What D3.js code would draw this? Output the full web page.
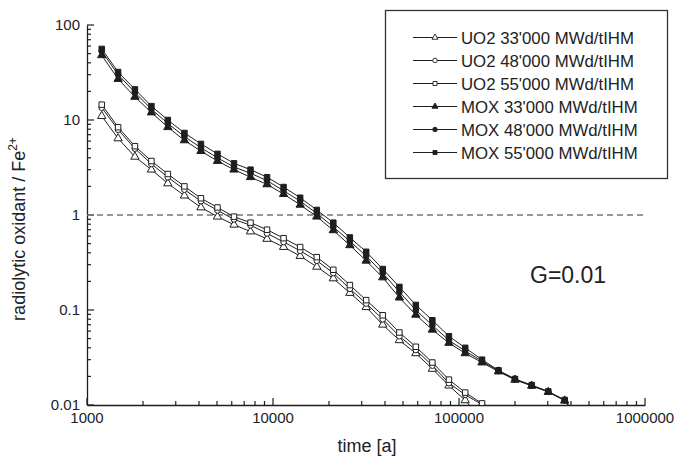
<!DOCTYPE html>
<html>
<head>
<meta charset="utf-8">
<script src="https://cdn.jsdelivr.net/npm/d3@7"></script>
<style>
  html, body { margin: 0; padding: 0; background: #fff; }
  svg { display: block; font-family: "Liberation Sans", Arial, Helvetica, sans-serif; }
</style>
</head>
<body>
<svg id="chart" width="674" height="459"></svg>
<script>
// Time points [a]
const times = [1200, 1470, 1810, 2220, 2720, 3340, 4100, 5030, 6170, 7570, 9290,
  11400, 14000, 17200, 21100, 25900, 31700, 38900, 47800, 58600, 71900, 88300,
  108000, 133000, 163000, 200000, 246000, 302000, 370000, 454000];

// Radiolytic oxidant / Fe2+ ratio for each fuel type and burn-up
const uo2_33 = [11, 6.4, 4.1, 3.0, 2.15, 1.6, 1.2, 0.96, 0.79, 0.67, 0.56, 0.46, 0.37,
  0.285, 0.215, 0.151, 0.107, 0.07, 0.048, 0.035, 0.024, 0.016, 0.0112, 0.007];
const uo2_48 = [13.5, 7.9, 5.0, 3.45, 2.5, 1.85, 1.4, 1.12, 0.9, 0.78, 0.64, 0.52, 0.42,
  0.33, 0.245, 0.167, 0.117, 0.08, 0.053, 0.038, 0.026, 0.017, 0.0128, 0.0101, 0.006];
const uo2_55 = [14.5, 8.4, 5.3, 3.7, 2.7, 2.0, 1.5, 1.2, 0.96, 0.83, 0.70, 0.57, 0.46,
  0.36, 0.265, 0.183, 0.127, 0.088, 0.058, 0.041, 0.028, 0.0185, 0.0135, 0.0104, 0.006];
const mox_33 = [48, 27, 17.5, 12, 8.4, 6.1, 4.7, 3.7, 3.0, 2.5, 2.1, 1.66, 1.28, 0.96,
  0.69, 0.48, 0.33, 0.22, 0.135, 0.089, 0.062, 0.045, 0.035, 0.028, 0.0225, 0.0184,
  0.0159, 0.0137, 0.0111, 0.0064];
const mox_48 = [53, 30, 19.5, 13, 9.2, 6.7, 5.1, 4.0, 3.2, 2.75, 2.3, 1.8, 1.4, 1.04,
  0.75, 0.53, 0.37, 0.245, 0.155, 0.1, 0.069, 0.048, 0.037, 0.029, 0.0228, 0.0186,
  0.016, 0.0138, 0.0112, 0.0065];
const mox_55 = [56, 32, 21, 14, 10, 7.3, 5.6, 4.4, 3.5, 3.0, 2.5, 1.97, 1.52, 1.13,
  0.83, 0.58, 0.41, 0.27, 0.175, 0.113, 0.078, 0.053, 0.040, 0.030, 0.0232, 0.0188,
  0.0162, 0.0139, 0.0113, 0.0066];

const seriesNames = ["UO2 33'000 MWd/tIHM", "UO2 48'000 MWd/tIHM", "UO2 55'000 MWd/tIHM",
  "MOX 33'000 MWd/tIHM", "MOX 48'000 MWd/tIHM", "MOX 55'000 MWd/tIHM"];
const seriesValues = [uo2_33, uo2_48, uo2_55, mox_33, mox_48, mox_55];
const seriesShapes = ["triangle", "circle", "square", "triangle", "circle", "square"];
const seriesFilled = [false, false, false, true, true, true];

const xTickValues = [1000, 10000, 100000, 1000000];
const xTickLabels = ["1000", "10000", "100000", "1000000"];
const yTickValues = [0.01, 0.1, 1, 10, 100];
const yTickLabels = ["0.01", "0.1", "1", "10", "100"];

const svg = d3.select("#chart");
const plot = { left: 87, right: 645, top: 25, bottom: 405 };

const x = d3.scaleLog().domain([1000, 1000000]).range([plot.left, plot.right]);
const y = d3.scaleLog().domain([0.01, 100]).range([plot.bottom, plot.top]);

const ink = "#1e1e1e";

svg.append("defs").append("clipPath").attr("id", "plotClip")
  .append("rect")
  .attr("x", plot.left).attr("y", plot.top)
  .attr("width", plot.right - plot.left + 2).attr("height", plot.bottom - plot.top);

// minor ticks for each decade
function minorTicks(lo, hi) {
  const out = [];
  for (let d = lo; d < hi; d *= 10) for (let m = 2; m <= 9; m++) out.push(d * m);
  return out;
}

// X axis (ticks pointing inward)
const xAxis = svg.append("g").attr("transform", `translate(0,${plot.bottom})`);
xAxis.call(d3.axisBottom(x).tickValues(xTickValues).tickSize(0).tickFormat(""));
xAxis.select(".domain").attr("stroke", ink).attr("stroke-width", 1.3);
xAxis.selectAll(".tick-major").data(xTickValues).enter().append("line")
  .attr("x1", d => x(d)).attr("x2", d => x(d)).attr("y1", 0).attr("y2", -7)
  .attr("stroke", ink).attr("stroke-width", 1.2);
xAxis.selectAll(".tick-minor").data(minorTicks(1000, 1000000)).enter().append("line")
  .attr("x1", d => x(d)).attr("x2", d => x(d)).attr("y1", 0).attr("y2", -4)
  .attr("stroke", ink).attr("stroke-width", 1.2);
xAxis.selectAll(".xlab").data(xTickValues).enter().append("text")
  .attr("x", d => x(d)).attr("y", 18)
  .attr("text-anchor", "middle")
  .attr("font-size", 15).attr("fill", "#222")
  .text((d, i) => xTickLabels[i]);

// Y axis (ticks pointing inward)
const yAxis = svg.append("g").attr("transform", `translate(${plot.left},0)`);
yAxis.call(d3.axisLeft(y).tickValues(yTickValues).tickSize(0).tickFormat(""));
yAxis.select(".domain").attr("stroke", ink).attr("stroke-width", 1.3);
yAxis.selectAll(".tick-major").data(yTickValues).enter().append("line")
  .attr("y1", d => y(d)).attr("y2", d => y(d)).attr("x1", 0).attr("x2", 7)
  .attr("stroke", ink).attr("stroke-width", 1.2);
yAxis.selectAll(".tick-minor").data(minorTicks(0.01, 100)).enter().append("line")
  .attr("y1", d => y(d)).attr("y2", d => y(d)).attr("x1", 0).attr("x2", 4)
  .attr("stroke", ink).attr("stroke-width", 1.2);
yAxis.selectAll(".ylab").data(yTickValues).enter().append("text")
  .attr("x", -7).attr("y", d => y(d)).attr("dy", "0.35em")
  .attr("text-anchor", "end")
  .attr("font-size", 15).attr("fill", "#222")
  .text((d, i) => yTickLabels[i]);

// Axis titles
svg.append("text")
  .attr("x", 367).attr("y", 452)
  .attr("text-anchor", "middle").attr("font-size", 18).attr("fill", "#222")
  .text("time [a]");

const yTitle = svg.append("text")
  .attr("transform", "translate(25,229) rotate(-90)")
  .attr("text-anchor", "middle").attr("font-size", 18).attr("fill", "#222");
yTitle.append("tspan").text("radiolytic oxidant / Fe");
yTitle.append("tspan").attr("font-size", 12).attr("dy", -8).text("2+");

// Reference level at ratio 1
svg.append("line")
  .attr("x1", plot.left).attr("x2", plot.right)
  .attr("y1", y(1)).attr("y2", y(1))
  .attr("stroke", "#777").attr("stroke-width", 1.3)
  .attr("stroke-dasharray", "6,4");

// Curves
const line = d3.line()
  .x((d, i) => x(times[i]))
  .y(d => y(d));

const curves = svg.append("g").attr("clip-path", "url(#plotClip)");
const symbolType = { triangle: d3.symbolTriangle, circle: d3.symbolCircle, square: d3.symbolSquare };

seriesValues.forEach((vals, s) => {
  curves.append("path")
    .datum(vals)
    .attr("d", line)
    .attr("fill", "none")
    .attr("stroke", ink)
    .attr("stroke-width", 1);
});

seriesValues.forEach((vals, s) => {
  const sym = d3.symbol().type(symbolType[seriesShapes[s]]).size(seriesShapes[s] === "circle" ? 26 : 30);
  curves.selectAll(null)
    .data(vals.map((v, i) => ({ t: times[i], v })).filter(d => d.v >= 0.01))
    .enter().append("path")
    .attr("d", sym)
    .attr("transform", d => `translate(${x(d.t)},${y(d.v)})`)
    .attr("fill", seriesFilled[s] ? ink : "#fff")
    .attr("stroke", ink)
    .attr("stroke-width", 1);
});

// Legend
const legend = svg.append("g");
legend.append("rect")
  .attr("x", 385.5).attr("y", 10.5).attr("width", 282).attr("height", 168)
  .attr("fill", "#fff").attr("stroke", "#333").attr("stroke-width", 1.3);

seriesNames.forEach((name, s) => {
  const ly = 37.5 + s * 23;
  legend.append("line")
    .attr("x1", 413).attr("x2", 457).attr("y1", ly).attr("y2", ly)
    .attr("stroke", ink).attr("stroke-width", 1);
  const sym = d3.symbol().type(symbolType[seriesShapes[s]]).size(16);
  legend.append("path")
    .attr("d", sym)
    .attr("transform", `translate(435,${ly})`)
    .attr("fill", seriesFilled[s] ? ink : "#fff")
    .attr("stroke", ink).attr("stroke-width", 0.9);
  legend.append("text")
    .attr("x", 461).attr("y", ly).attr("dy", "0.36em")
    .attr("font-size", 16.8).attr("fill", "#222")
    .text(name);
});

// Annotation
svg.append("text")
  .attr("x", 530).attr("y", 283)
  .attr("font-size", 23).attr("fill", "#222")
  .text("G=0.01");
</script>
</body>
</html>
